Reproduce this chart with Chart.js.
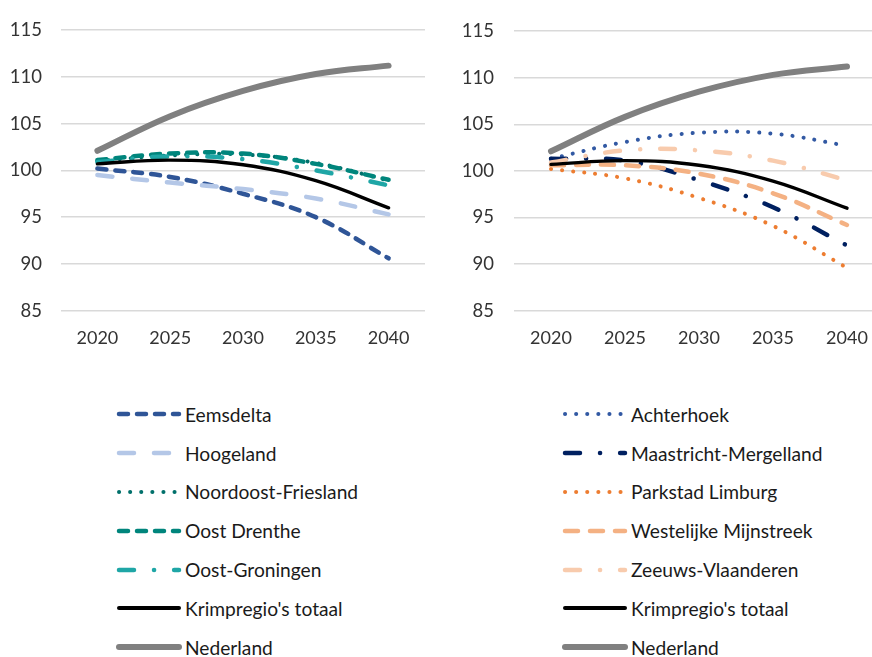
<!DOCTYPE html>
<html>
<head>
<meta charset="utf-8">
<script src="https://cdn.jsdelivr.net/npm/chart.js@4/dist/chart.umd.min.js"></script>
<style>
  html, body { margin: 0; padding: 0; background: #fff; overflow: hidden; }
  body { width: 872px; height: 657px; position: relative; font-family: Lato, "Open Sans", sans-serif; }
  #leftWrap { position: absolute; left: 0; top: 0; width: 436px; height: 360px; }
  #rightWrap { position: absolute; left: 436px; top: 0; width: 448px; height: 360px; }
  .legend { position: absolute; top: 395px; margin: 0; padding: 0; list-style: none; }
  .legend li { height: 38.8px; display: flex; align-items: center; font-size: 19.2px; color: #1a1a1a; white-space: nowrap; }
  .legend svg { width: 66px; height: 12px; margin-right: 3px; flex: none; }
  #leftLegend { left: 116px; }
  #rightLegend { left: 562px; }
</style>
</head>
<body>
<div id="leftWrap"><canvas id="leftChart"></canvas></div>
<div id="rightWrap"><canvas id="rightChart"></canvas></div>
<ul class="legend" id="leftLegend"></ul>
<ul class="legend" id="rightLegend"></ul>

<script>
const years = ['2020', '2025', '2030', '2035', '2040'];
const yTicks = [85, 90, 95, 100, 105, 110, 115];

// index, 2020 = ~100
const eemsdelta = [100.2, 99.3, 97.5, 95.0, 90.6];
const hoogeland = [99.5, 98.7, 98.0, 97.0, 95.3];
const noordoostFriesland = [101.0, 101.6, 101.7, 100.8, 98.9];
const oostDrenthe = [101.1, 101.8, 101.8, 100.7, 99.0];
const oostGroningen = [100.9, 101.5, 101.2, 100.0, 98.4];

const achterhoek = [101.3, 103.1, 104.1, 104.0, 102.7];
const maastrichtMergelland = [101.3, 101.1, 99.0, 96.1, 92.0];
const parkstadLimburg = [100.2, 99.2, 97.1, 94.1, 89.6];
const westelijkeMijnstreek = [100.6, 100.6, 99.7, 97.6, 94.2];
const zeeuwsVlaanderen = [100.9, 102.2, 102.2, 101.1, 99.0];

const krimpregioTotaal = [100.7, 101.1, 100.6, 98.9, 96.0];
const nederland = [102.1, 105.8, 108.5, 110.3, 111.2];

// line styles
const DASH = [9, 9];
const LONGDASH = [15, 20];
const DOT = [0.1, 11];
const DASHDOT = [15, 20, 0.1, 20];
const MEDDASH = [13, 12];

function series(label, data, color, width, dash) {
  return { label, data, color, width, dash };
}

const leftSeries = [
  series('Eemsdelta', eemsdelta, '#2F5597', 4.5, DASH),
  series('Hoogeland', hoogeland, '#B4C7E7', 4.5, LONGDASH),
  series('Noordoost-Friesland', noordoostFriesland, '#00706B', 4, DOT),
  series('Oost Drenthe', oostDrenthe, '#00857C', 4.5, DASH),
  series('Oost-Groningen', oostGroningen, '#1FA6A6', 4.5, DASHDOT),
  series("Krimpregio's totaal", krimpregioTotaal, '#000000', 3.4, []),
  series('Nederland', nederland, '#808080', 6, [])
];

const rightSeries = [
  series('Achterhoek', achterhoek, '#3259A3', 4, DOT),
  series('Maastricht-Mergelland', maastrichtMergelland, '#002060', 4.5, DASHDOT),
  series('Parkstad Limburg', parkstadLimburg, '#ED7D31', 4, DOT),
  series('Westelijke Mijnstreek', westelijkeMijnstreek, '#F4B183', 4.5, MEDDASH),
  series('Zeeuws-Vlaanderen', zeeuwsVlaanderen, '#F8CBAD', 4.5, DASHDOT),
  series("Krimpregio's totaal", krimpregioTotaal, '#000000', 3.4, []),
  series('Nederland', nederland, '#808080', 6, [])
];

function makeChart(canvasId, list, yAxisWidth, tickPad, rightPad) {
  const ctx = document.getElementById(canvasId).getContext('2d');
  return new Chart(ctx, {
    type: 'line',
    data: {
      labels: years,
      datasets: list.map((s, i) => ({
        label: s.label,
        data: s.data,
        borderColor: s.color,
        borderWidth: s.width,
        borderDash: s.dash,
        borderCapStyle: 'round',
        borderJoinStyle: 'round',
        pointRadius: 0,
        tension: 0.4,
        fill: false,
        order: list.length - i   // later series on top
      }))
    },
    options: {
      responsive: true,
      maintainAspectRatio: false,
      animation: false,
      layout: { padding: { top: 23, right: rightPad, left: 0, bottom: 0 } },
      plugins: { legend: { display: false }, tooltip: { enabled: false } },
      scales: {
        x: {
          offset: true,
          grid: { display: false },
          border: { display: false },
          ticks: { color: '#333', font: { family: 'Lato', size: 18 }, padding: 9, maxRotation: 0 },
          afterFit: (scale) => { scale.height = 360 - 310.7; }
        },
        y: {
          min: 85,
          max: 115,
          afterBuildTicks: (scale) => { scale.ticks = yTicks.map(v => ({ value: v })); },
          grid: { color: '#D9D9D9', lineWidth: 1.6, drawTicks: false },
          border: { display: false },
          ticks: { color: '#333', font: { family: 'Lato', size: 18.5 }, padding: tickPad },
          afterFit: (scale) => { scale.width = yAxisWidth; }
        }
      }
    }
  });
}

makeChart('leftChart', leftSeries, 61, 19, 11);
makeChart('rightChart', rightSeries, 78, 20, 0);

// HTML legend with line samples
function buildLegend(id, list) {
  const ul = document.getElementById(id);
  list.forEach(s => {
    const li = document.createElement('li');
    const dash = s.dash.length ? s.dash.join(' ') : 'none';
    li.innerHTML =
      `<svg viewBox="0 0 66 12"><line x1="3" y1="6" x2="63" y2="6" stroke="${s.color}" ` +
      `stroke-width="${Math.max(s.width, 4)}" stroke-linecap="round" stroke-dasharray="${dash}"/></svg>` +
      `<span>${s.label}</span>`;
    ul.appendChild(li);
  });
}
buildLegend('leftLegend', leftSeries);
buildLegend('rightLegend', rightSeries);
</script>
</body>
</html>
